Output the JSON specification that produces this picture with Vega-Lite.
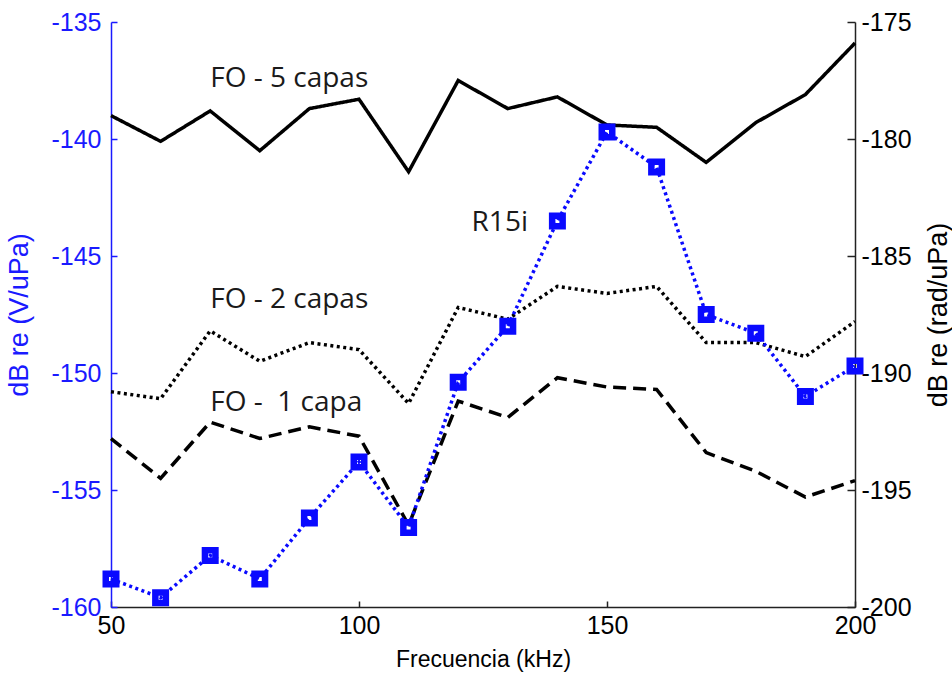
{
  "$schema": "https://vega.github.io/schema/vega-lite/v6.json",
  "width": 744,
  "height": 585,
  "autosize": {"type": "none"},
  "padding": {"left": 111, "top": 22, "right": 97, "bottom": 80},
  "background": "white",
  "config": {
    "view": {"stroke": null},
    "axis": {"grid": false, "labelFont": "Liberation Sans", "titleFont": "Liberation Sans", "titleFontWeight": "normal"}
  },
  "datasets": {
    "capas": [
      {"f": 50, "v": -179.0, "s": "FO - 5 capas"}, {"f": 60, "v": -180.1, "s": "FO - 5 capas"}, {"f": 70, "v": -178.8, "s": "FO - 5 capas"}, {"f": 80, "v": -180.5, "s": "FO - 5 capas"},
      {"f": 90, "v": -178.7, "s": "FO - 5 capas"}, {"f": 100, "v": -178.3, "s": "FO - 5 capas"}, {"f": 110, "v": -181.4, "s": "FO - 5 capas"}, {"f": 120, "v": -177.5, "s": "FO - 5 capas"},
      {"f": 130, "v": -178.7, "s": "FO - 5 capas"}, {"f": 140, "v": -178.2, "s": "FO - 5 capas"}, {"f": 150, "v": -179.4, "s": "FO - 5 capas"}, {"f": 160, "v": -179.5, "s": "FO - 5 capas"},
      {"f": 170, "v": -181.0, "s": "FO - 5 capas"}, {"f": 180, "v": -179.3, "s": "FO - 5 capas"}, {"f": 190, "v": -178.1, "s": "FO - 5 capas"}, {"f": 200, "v": -175.9, "s": "FO - 5 capas"},
      {"f": 50, "v": -190.8, "s": "FO - 2 capas"}, {"f": 60, "v": -191.1, "s": "FO - 2 capas"}, {"f": 70, "v": -188.2, "s": "FO - 2 capas"}, {"f": 80, "v": -189.5, "s": "FO - 2 capas"},
      {"f": 90, "v": -188.7, "s": "FO - 2 capas"}, {"f": 100, "v": -189.0, "s": "FO - 2 capas"}, {"f": 110, "v": -191.3, "s": "FO - 2 capas"}, {"f": 120, "v": -187.2, "s": "FO - 2 capas"},
      {"f": 130, "v": -187.7, "s": "FO - 2 capas"}, {"f": 140, "v": -186.3, "s": "FO - 2 capas"}, {"f": 150, "v": -186.6, "s": "FO - 2 capas"}, {"f": 160, "v": -186.3, "s": "FO - 2 capas"},
      {"f": 170, "v": -188.7, "s": "FO - 2 capas"}, {"f": 180, "v": -188.7, "s": "FO - 2 capas"}, {"f": 190, "v": -189.3, "s": "FO - 2 capas"}, {"f": 200, "v": -187.8, "s": "FO - 2 capas"},
      {"f": 50, "v": -192.8, "s": "FO - 1 capa"}, {"f": 60, "v": -194.5, "s": "FO - 1 capa"}, {"f": 70, "v": -192.1, "s": "FO - 1 capa"}, {"f": 80, "v": -192.8, "s": "FO - 1 capa"},
      {"f": 90, "v": -192.3, "s": "FO - 1 capa"}, {"f": 100, "v": -192.7, "s": "FO - 1 capa"}, {"f": 110, "v": -196.5, "s": "FO - 1 capa"}, {"f": 120, "v": -191.2, "s": "FO - 1 capa"},
      {"f": 130, "v": -191.9, "s": "FO - 1 capa"}, {"f": 140, "v": -190.2, "s": "FO - 1 capa"}, {"f": 150, "v": -190.6, "s": "FO - 1 capa"}, {"f": 160, "v": -190.7, "s": "FO - 1 capa"},
      {"f": 170, "v": -193.4, "s": "FO - 1 capa"}, {"f": 180, "v": -194.2, "s": "FO - 1 capa"}, {"f": 190, "v": -195.3, "s": "FO - 1 capa"}, {"f": 200, "v": -194.6, "s": "FO - 1 capa"}
    ],
    "r15i": [
      {"f": 50, "v": -158.8}, {"f": 60, "v": -159.6}, {"f": 70, "v": -157.8}, {"f": 80, "v": -158.8},
      {"f": 90, "v": -156.2}, {"f": 100, "v": -153.8}, {"f": 110, "v": -156.6}, {"f": 120, "v": -150.4},
      {"f": 130, "v": -148.0}, {"f": 140, "v": -143.5}, {"f": 150, "v": -139.7}, {"f": 160, "v": -141.2},
      {"f": 170, "v": -147.5}, {"f": 180, "v": -148.3}, {"f": 190, "v": -151.0}, {"f": 200, "v": -149.7}
    ],
    "labels": [
      {"f": 70, "v": -137.79, "t": "FO - 5 capas"},
      {"f": 70, "v": -147.24, "t": "FO - 2 capas"},
      {"f": 70, "v": -151.64, "t": "FO -\u00a0 1 capa"},
      {"f": 122.7, "v": -143.94, "t": "R15i"}
    ]
  },
  "encoding": {
    "x": {
      "field": "f", "type": "quantitative",
      "scale": {"domain": [50, 200], "nice": false, "zero": false},
      "axis": {
        "title": "Frecuencia (kHz)", "values": [50, 100, 150, 200],
        "labelFontSize": 25, "labelColor": "#000", "titleFontSize": 23, "titleColor": "#000",
        "domainColor": "#222", "domainWidth": 1.5, "tickColor": "#222", "tickSize": -6, "tickWidth": 1.5,
        "labelPadding": 12, "titlePadding": 10, "labelFlush": false
      }
    }
  },
  "layer": [
    {
      "data": {"name": "capas"},
      "mark": {"type": "line", "color": "#000", "strokeWidth": 3.5},
      "encoding": {
        "y": {
          "field": "v", "type": "quantitative",
          "scale": {"domain": [-200, -175], "nice": false, "zero": false},
          "axis": {
            "orient": "right", "title": "dB re (rad/uPa)", "values": [-200, -195, -190, -185, -180, -175],
            "labelExpr": "datum.value < 0 ? '-' + abs(datum.value) : '' + datum.value",
            "labelFontSize": 25, "labelColor": "#000", "titleFontSize": 27, "titleColor": "#000",
            "titleAngle": 270, "titleX": 83, "titleY": 292.5, "titleAlign": "center", "titleBaseline": "middle",
            "domainColor": "#222", "domainWidth": 1.5, "tickColor": "#222", "tickSize": -8, "tickWidth": 1.5,
            "labelPadding": 14
          }
        },
        "strokeDash": {
          "field": "s", "type": "nominal", "legend": null,
          "scale": {"domain": ["FO - 5 capas", "FO - 2 capas", "FO - 1 capa"], "range": [[1, 0], [3, 3.5], [13, 7]]}
        },
        "detail": {"field": "s"}
      }
    },
    {
      "data": {"name": "r15i"},
      "mark": {"type": "line", "color": "#0a0aff", "strokeWidth": 3.5, "strokeDash": [3, 3.5]},
      "encoding": {
        "y": {
          "field": "v", "type": "quantitative",
          "scale": {"domain": [-160, -135], "nice": false, "zero": false},
          "axis": {
            "orient": "left", "title": "dB re (V/uPa)", "values": [-160, -155, -150, -145, -140, -135],
            "labelExpr": "datum.value < 0 ? '-' + abs(datum.value) : '' + datum.value",
            "labelFontSize": 25, "labelColor": "#1a1aff", "titleFontSize": 27, "titleColor": "#1a1aff",
            "titleAngle": 270, "titleX": -92, "titleY": 292.5, "titleAlign": "center", "titleBaseline": "middle",
            "domainColor": "#1a1aff", "domainWidth": 1.5, "tickColor": "#1a1aff", "tickSize": -6, "tickWidth": 1.5,
            "labelPadding": 16
          }
        }
      }
    },
    {
      "data": {"name": "r15i"},
      "mark": {"type": "point", "shape": "square", "filled": false, "stroke": "#0a0aff", "strokeWidth": 6.5, "size": 110, "opacity": 1},
      "encoding": {
        "y": {"field": "v", "type": "quantitative", "scale": {"domain": [-160, -135], "nice": false, "zero": false}, "axis": null}
      }
    },
    {
      "data": {"name": "labels"},
      "mark": {"type": "text", "align": "left", "baseline": "alphabetic", "font": "Open Sans", "fontSize": 28, "color": "#1a1a1a"},
      "encoding": {
        "y": {"field": "v", "type": "quantitative", "scale": {"domain": [-160, -135], "nice": false, "zero": false}, "axis": null},
        "text": {"field": "t"}
      }
    }
  ],
  "resolve": {"scale": {"y": "independent"}}
}
